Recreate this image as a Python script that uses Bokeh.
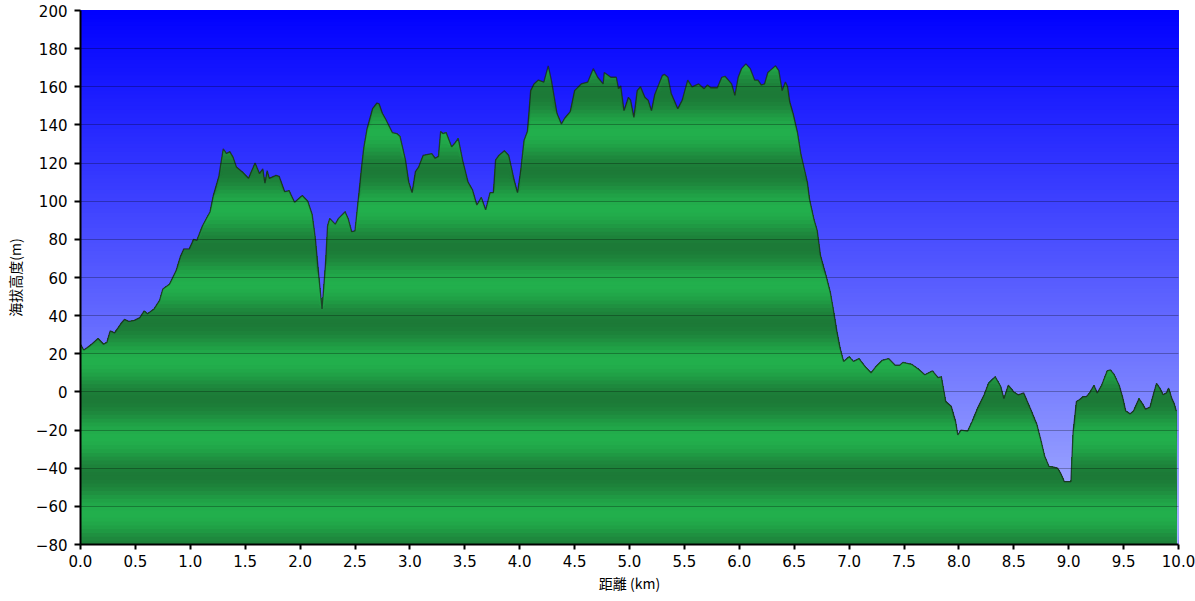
import numpy as np
from bokeh.plotting import figure
from bokeh.models import Range1d, FixedTicker, NumeralTickFormatter
from bokeh.embed import file_html
from bokeh.resources import INLINE

# ---------------- data ----------------
distance_km = [
    0.00, 0.03, 0.08, 0.16, 0.21, 0.24, 0.27, 0.31, 0.37, 0.40, 0.44, 0.49, 0.54, 0.58, 0.61, 0.67,
    0.72, 0.75, 0.81, 0.87, 0.91, 0.94, 0.99, 1.03, 1.06, 1.11, 1.18, 1.21, 1.26, 1.30, 1.33, 1.36,
    1.39, 1.42, 1.48, 1.53, 1.59, 1.63, 1.66, 1.68, 1.70, 1.72, 1.78, 1.81, 1.86, 1.90, 1.95, 2.02,
    2.07, 2.11, 2.14, 2.17, 2.20, 2.23, 2.25, 2.27, 2.32, 2.35, 2.41, 2.44, 2.47, 2.50, 2.53, 2.56,
    2.58, 2.61, 2.66, 2.70, 2.72, 2.75, 2.78, 2.84, 2.88, 2.91, 2.96, 2.99, 3.02, 3.05, 3.08, 3.12,
    3.20, 3.23, 3.26, 3.28, 3.30, 3.33, 3.38, 3.41, 3.44, 3.48, 3.53, 3.57, 3.61, 3.65, 3.69, 3.73,
    3.76, 3.78, 3.81, 3.86, 3.90, 3.95, 3.98, 4.01, 4.04, 4.07, 4.10, 4.13, 4.17, 4.22, 4.26, 4.29,
    4.34, 4.38, 4.41, 4.46, 4.50, 4.56, 4.62, 4.67, 4.71, 4.76, 4.77, 4.83, 4.88, 4.90, 4.92, 4.95,
    4.99, 5.01, 5.04, 5.07, 5.10, 5.14, 5.17, 5.20, 5.23, 5.30, 5.32, 5.35, 5.38, 5.44, 5.48, 5.53,
    5.57, 5.63, 5.68, 5.71, 5.74, 5.80, 5.84, 5.87, 5.93, 5.96, 5.99, 6.02, 6.06, 6.10, 6.14, 6.17,
    6.20, 6.23, 6.26, 6.29, 6.33, 6.36, 6.39, 6.42, 6.44, 6.46, 6.49, 6.53, 6.56, 6.62, 6.64, 6.68,
    6.71, 6.74, 6.79, 6.83, 6.86, 6.89, 6.92, 6.95, 7.00, 7.04, 7.09, 7.15, 7.20, 7.24, 7.30, 7.36,
    7.42, 7.46, 7.49, 7.57, 7.63, 7.69, 7.76, 7.81, 7.84, 7.88, 7.93, 7.97, 7.99, 8.02, 8.08, 8.12,
    8.17, 8.23, 8.27, 8.33, 8.38, 8.41, 8.45, 8.50, 8.54, 8.59, 8.65, 8.71, 8.75, 8.78, 8.82, 8.87,
    8.90, 8.93, 8.96, 9.02, 9.04, 9.07, 9.10, 9.13, 9.16, 9.19, 9.23, 9.26, 9.30, 9.35, 9.38, 9.41,
    9.46, 9.49, 9.52, 9.56, 9.59, 9.64, 9.67, 9.70, 9.74, 9.77, 9.80, 9.83, 9.86, 9.89, 9.91, 9.94,
    9.96, 9.98,
]
elevation_m = [
    25, 22, 24, 28, 25, 26, 32, 31, 36, 38, 37, 37.5, 39, 42.5, 41, 43.5,
    48, 54, 56.5, 63.5, 71, 75, 75, 80, 79.5, 87, 94.5, 103, 113, 127.5, 125, 126,
    123, 118, 115, 112, 120, 114.5, 117, 109.5, 116, 112, 113.5, 113, 105, 105.5, 99.5, 103,
    100, 93, 80, 61, 43.5, 66, 87, 91, 88, 91, 94.5, 90.5, 84, 84.5, 101, 118,
    128, 138, 148.5, 151.5, 151, 146, 143, 136, 135.5, 134, 121.5, 110, 104.5, 115.5, 118, 124,
    125, 122.5, 123.5, 136.5, 135.5, 136, 128.5, 130.5, 133, 121.5, 110, 106, 98, 102, 95.5, 104.5,
    104.5, 121.5, 124, 126.5, 124, 111, 104.5, 116.5, 132, 136.5, 158, 161.5, 163.5, 162.5, 171, 163,
    146, 140.5, 143.5, 147, 158, 161.5, 162.5, 169.5, 165, 161.5, 167.5, 165, 165, 159, 160.5, 147.5,
    154.5, 153, 144, 158, 160, 154.5, 153, 147.5, 156, 166, 166.5, 165, 156.5, 148.5, 153, 163.5,
    160, 161.5, 159, 161, 159.5, 159.5, 165, 165.5, 161.5, 155.5, 165, 169.5, 172, 169.5, 163.5, 163.5,
    161, 161.5, 167.5, 169, 171, 168.5, 158, 162.5, 160, 152, 146, 136, 125, 110, 101, 90.5,
    84.5, 71.5, 61, 52, 42, 31.5, 22.5, 16, 18.5, 16, 17.5, 13, 10, 13, 16.5, 17.5,
    14, 14, 15.5, 14.5, 12, 9, 11, 7.5, 8, -5, -7.5, -15.5, -22.5, -20, -20.5, -15.5,
    -8.5, -1.5, 4.5, 8, 3, -3.5, 3.5, 0, -1.5, -0.5, -8.5, -17, -26, -33.5, -39, -39.5,
    -40, -43, -47, -47, -21, -5, -4, -2.5, -2.5, -0.5, 3.5, -0.5, 3.5, 11, 11.5, 9.5,
    3.5, -2.5, -10, -11.5, -10, -3.5, -6, -9, -8, -1.5, 4.5, 2, -1.5, -0.5, 2, -3.5,
    -6, -10,
]
x_ticks = [0.0, 0.5, 1.0, 1.5, 2.0, 2.5, 3.0, 3.5, 4.0, 4.5, 5.0, 5.5, 6.0, 6.5, 7.0, 7.5,
           8.0, 8.5, 9.0, 9.5, 10.0]
y_ticks = [-80, -60, -40, -20, 0, 20, 40, 60, 80, 100, 120, 140, 160, 180, 200]
x_title = "距離 (km)"
y_title = "海拔高度(m)"

X0, X1 = 0.0, 10.0
Y0, Y1 = -80.0, 200.0

xs = np.array(distance_km, dtype=float)
ys = np.array(elevation_m, dtype=float)

p = figure(width=1195, height=600, output_backend="svg", toolbar_location=None,
           x_range=Range1d(X0, X1), y_range=Range1d(Y0, Y1),
           min_border_left=80, min_border_right=17, min_border_top=10, min_border_bottom=56)
p.background_fill_color = "#0000ff"
p.border_fill_color = "white"
p.outline_line_color = None


def hexcol(c):
    return "#%02x%02x%02x" % tuple(int(round(v)) for v in c)


def lerp(c0, c1, t):
    return [c0[i] + (c1[i] - c0[i]) * t for i in range(3)]


STEP = 2.0
bottoms = np.arange(Y0, Y1, STEP)

# blue vertical gradient background (each strip reaches the top, drawn upward)
blue_top = (0, 0, 255)
blue_bot = (172, 182, 255)
blue_cols = [hexcol(lerp(blue_top, blue_bot, (Y1 - (b + STEP / 2)) / (Y1 - Y0))) for b in bottoms]
p.quad(left=X0, right=X1, bottom=bottoms, top=Y1, fill_color=blue_cols, line_color=None)

# banded green fill under the profile (drawn from the top strip down)
g_dark = (28, 122, 55)
g_light = (34, 175, 76)
patch_x, patch_y, green_cols = [], [], []
for b in bottoms[::-1]:
    if b >= ys.max():
        continue
    top = np.minimum(ys, b + STEP)
    patch_x.append(np.concatenate([xs, xs[::-1]]))
    patch_y.append(np.concatenate([top, np.full(len(xs), Y0)]))
    h = b + STEP / 2
    t = (1 - np.cos(2 * np.pi * (h + 4) / 40.0)) / 2
    green_cols.append(hexcol(lerp(g_dark, g_light, t)))
p.patches(patch_x, patch_y, fill_color=green_cols, line_color=None)

p.line(xs, ys, line_color="#1a1a1a", line_alpha=0.7, line_width=1.3)

# axes
p.xaxis.ticker = FixedTicker(ticks=x_ticks)
p.xaxis.formatter = NumeralTickFormatter(format="0.0")
p.yaxis.ticker = FixedTicker(ticks=y_ticks)
p.xaxis.axis_label = x_title
p.yaxis.axis_label = y_title
for ax in (p.xaxis[0], p.yaxis[0]):
    ax.axis_line_color = "black"
    ax.axis_line_width = 2
    ax.major_tick_line_color = "black"
    ax.major_tick_line_width = 2
    ax.major_tick_in = 0
    ax.minor_tick_line_color = None
    ax.major_label_text_font = "DejaVu Sans"
    ax.major_label_text_font_size = "15px"
    ax.major_label_text_color = "black"
    ax.axis_label_text_font = "Noto Sans CJK JP"
    ax.axis_label_text_font_size = "14px"
    ax.axis_label_text_font_style = "normal"
    ax.axis_label_text_color = "black"
p.yaxis.major_tick_out = 6
p.yaxis.major_label_standoff = 7
p.yaxis.axis_label_standoff = 8
p.xaxis.major_tick_out = 5
p.xaxis.major_label_standoff = 5
p.xaxis.axis_label_standoff = 3

p.xgrid.visible = False
p.ygrid.ticker = FixedTicker(ticks=y_ticks)
p.ygrid.grid_line_color = "black"
p.ygrid.grid_line_alpha = 0.28
p.ygrid.grid_line_width = 1
p.ygrid.level = "annotation"

open("out.html", "w").write(file_html(p, INLINE))
